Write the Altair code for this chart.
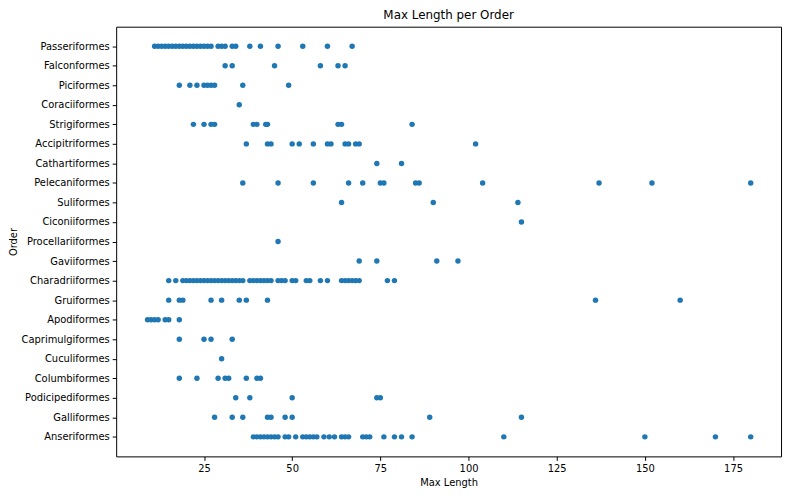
import altair as alt
import pandas as pd

orders = ["Passeriformes", "Falconformes", "Piciformes", "Coraciiformes", "Strigiformes",
          "Accipitriformes", "Cathartiformes", "Pelecaniformes", "Suliformes", "Ciconiiformes",
          "Procellariiformes", "Gaviiformes", "Charadriiformes", "Gruiformes", "Apodiformes",
          "Caprimulgiformes", "Cuculiformes", "Columbiformes", "Podicipediformes",
          "Galliformes", "Anseriformes"]

passeriformes = [11, 12, 13, 14, 15, 16, 17, 18, 19, 20, 21, 22, 23, 24, 25, 26, 27,
                 29, 30, 31, 33, 34, 38, 41, 46, 53, 60, 67]
falconformes = [31, 33, 45, 58, 63, 65]
piciformes = [18, 21, 23, 25, 26, 27, 28, 36, 49]
coraciiformes = [35]
strigiformes = [22, 25, 27, 28, 39, 40, 42.5, 43, 63, 64, 84]
accipitriformes = [37, 43, 44, 50, 52, 56, 60, 61, 65, 66, 68, 69, 102]
cathartiformes = [74, 81]
pelecaniformes = [36, 46, 56, 66, 70, 75, 76, 85, 86, 104, 137, 152, 180]
suliformes = [64, 90, 114]
ciconiiformes = [115]
procellariiformes = [46]
gaviiformes = [69, 74, 91, 97]
charadriiformes = [15, 17, 19, 20, 21, 22, 23, 24, 25, 26, 27, 28, 29, 30, 31, 32, 33, 34,
                   35, 36, 38, 39, 40, 41, 42, 43, 44, 46, 47, 48, 50, 51, 54, 55, 58, 60,
                   64, 65, 66, 67, 68, 69, 77, 79]
gruiformes = [15, 18, 19, 27, 30, 35, 37, 43, 136, 160]
apodiformes = [9, 10, 11, 12, 14, 15, 18]
caprimulgiformes = [18, 25, 27, 33]
cuculiformes = [30]
columbiformes = [18, 23, 29, 31, 32, 37, 40, 41]
podicipediformes = [34, 38, 50, 74, 75]
galliformes = [28, 33, 36, 43, 44, 48, 50, 89, 115]
anseriformes = [39, 40, 41, 42, 43, 44, 45, 46, 48, 49, 51, 53, 54, 55, 56, 57, 59, 60.5,
                62, 64, 65, 66, 70, 71, 72, 76, 79, 81, 84, 110, 150, 170, 180]

series = [passeriformes, falconformes, piciformes, coraciiformes, strigiformes,
          accipitriformes, cathartiformes, pelecaniformes, suliformes, ciconiiformes,
          procellariiformes, gaviiformes, charadriiformes, gruiformes, apodiformes,
          caprimulgiformes, cuculiformes, columbiformes, podicipediformes,
          galliformes, anseriformes]

x_ticks = [25, 50, 75, 100, 125, 150, 175]

rows = []
for name, vals in zip(orders, series):
    for v in vals:
        rows.append({"Order": name, "Max Length": v})
df = pd.DataFrame(rows)

font = "DejaVu Sans"

chart = alt.Chart(df).mark_circle(size=30, color="#1f77b4", opacity=1).encode(
    x=alt.X("Max Length:Q",
            scale=alt.Scale(domain=[0.1, 188.6], nice=False, zero=False),
            axis=alt.Axis(values=x_ticks, grid=False, tickColor="black", tickSize=4,
                          domain=False, labelColor="black", labelFontSize=10,
                          labelFont=font, titleFont=font, titleFontSize=10,
                          titleFontWeight="normal", titleColor="black",
                          labelPadding=3, titlePadding=4, labelFlush=False)),
    y=alt.Y("Order:N", sort=orders,
            scale=alt.Scale(type="point", padding=1),
            axis=alt.Axis(grid=False, tickColor="black", tickSize=4, domain=False,
                          labelColor="black", labelFontSize=10, labelFont=font,
                          titleFont=font, titleFontSize=10, titleFontWeight="normal",
                          titleColor="black", labelPadding=3, titlePadding=2)),
).properties(
    width=670, height=433,
    title=alt.TitleParams("Max Length per Order", font=font, fontSize=12,
                          fontWeight="normal", color="black", offset=5),
    autosize=alt.AutoSizeParams(type="none"),
    padding={"left": 109, "top": 17, "right": 5, "bottom": 30},
).configure_view(stroke="black", strokeWidth=1)

chart.save("out.html", embed_options={"renderer": "svg", "actions": False})
